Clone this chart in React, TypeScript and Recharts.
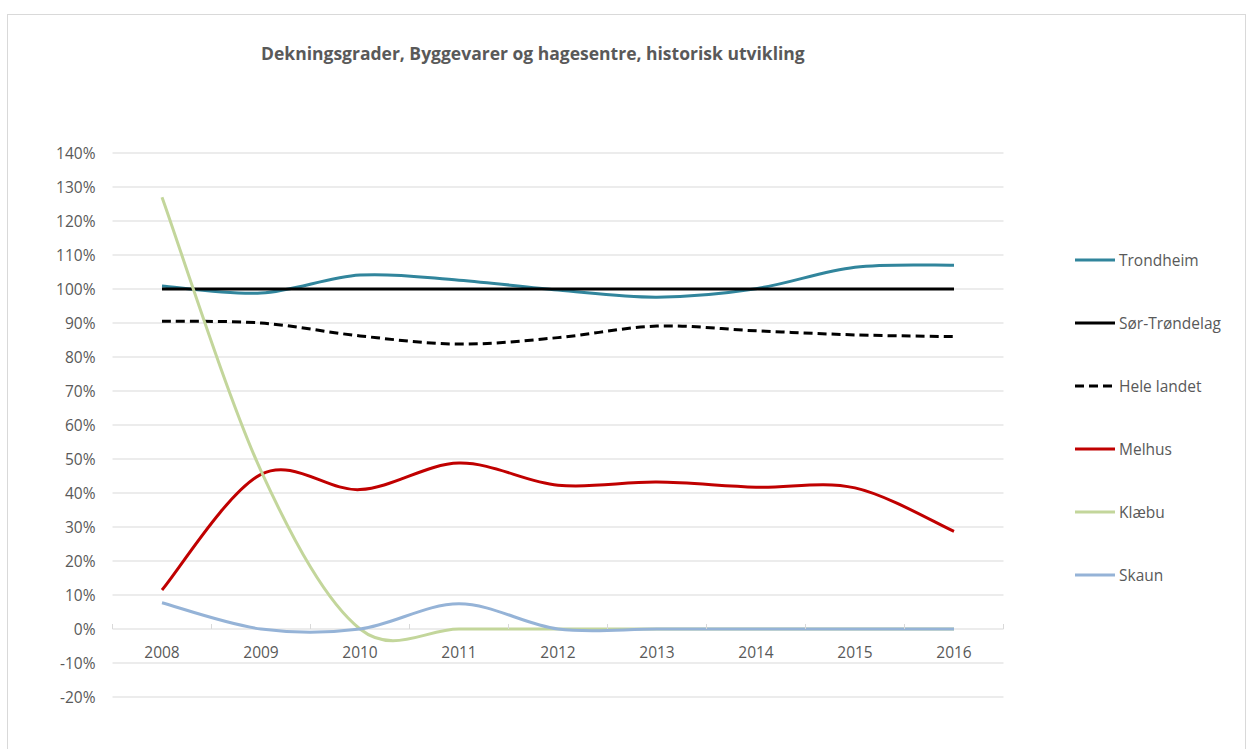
import React from "react";
import { LineChart, Line, XAxis, YAxis, CartesianGrid } from "recharts";

const years = ["2008", "2009", "2010", "2011", "2012", "2013", "2014", "2015", "2016"];
const trondheim = [1.009, 0.988, 1.041, 1.026, 0.997, 0.976, 1.001, 1.064, 1.07];
const sorTrondelag = [1.0, 1.0, 1.0, 1.0, 1.0, 1.0, 1.0, 1.0, 1.0];
const heleLandet = [0.905, 0.9, 0.862, 0.838, 0.857, 0.891, 0.877, 0.865, 0.86];
const melhus = [0.115, 0.455, 0.41, 0.488, 0.423, 0.432, 0.417, 0.415, 0.287];
const klaebu = [1.27, 0.465, 0.0, 0.0, 0.0, 0.0, 0.0, 0.0, 0.0];
const skaun = [0.077, 0.0, 0.0, 0.074, 0.0, 0.0, 0.0, 0.0, 0.0];
const yTicks = [-0.2, -0.1, 0, 0.1, 0.2, 0.3, 0.4, 0.5, 0.6, 0.7, 0.8, 0.9, 1.0, 1.1, 1.2, 1.3, 1.4];

const title = "Dekningsgrader, Byggevarer og hagesentre, historisk utvikling";

const series = [
  { key: "trondheim", name: "Trondheim", color: "#31859C", dash: undefined as string | undefined },
  { key: "sor", name: "Sør-Trøndelag", color: "#000000", dash: undefined },
  { key: "hele", name: "Hele landet", color: "#000000", dash: "9 5" },
  { key: "melhus", name: "Melhus", color: "#C00000", dash: undefined },
  { key: "klaebu", name: "Klæbu", color: "#C3D69B", dash: undefined },
  { key: "skaun", name: "Skaun", color: "#95B3D7", dash: undefined },
];

const data = years.map((y, i) => ({
  year: y,
  trondheim: trondheim[i],
  sor: sorTrondelag[i],
  hele: heleLandet[i],
  melhus: melhus[i],
  klaebu: klaebu[i],
  skaun: skaun[i],
}));

// Catmull-Rom style smoothing (like Excel's smoothed lines)
function smoothCurve(context: any) {
  let pts: number[][] = [];
  return {
    areaStart() {},
    areaEnd() {},
    lineStart() {
      pts = [];
    },
    point(x: number, y: number) {
      pts.push([+x, +y]);
    },
    lineEnd() {
      const n = pts.length;
      if (n === 0) return;
      context.moveTo(pts[0][0], pts[0][1]);
      if (n === 1) return;
      for (let i = 0; i < n - 1; i++) {
        const p0 = pts[i - 1] || pts[i];
        const p1 = pts[i];
        const p2 = pts[i + 1];
        const p3 = pts[i + 2] || pts[i + 1];
        const c1x = p1[0] + (p2[0] - p0[0]) / 6;
        const c1y = p1[1] + (p2[1] - p0[1]) / 6;
        const c2x = p2[0] - (p3[0] - p1[0]) / 6;
        const c2y = p2[1] - (p3[1] - p1[1]) / 6;
        context.bezierCurveTo(c1x, c1y, c2x, c2y, p2[0], p2[1]);
      }
    },
  };
}

const W = 1247;
const H = 749;
const M_TOP = 153;
const M_RIGHT = 243.5;
const Y_AXIS_W = 112.5;
const X_AXIS_H = 30;
const M_BOTTOM = 22;
const Y_MIN = -0.2;
const Y_MAX = 1.4;
const PLOT_H = H - M_TOP - M_BOTTOM - X_AXIS_H;
const PAD = 49.5;
const ZERO_Y = M_TOP + ((Y_MAX - 0) / (Y_MAX - Y_MIN)) * PLOT_H;

const FONT = "'Open Sans', 'Noto Sans', sans-serif";
const TXT = "#595959";

const XTick = (props: any) => {
  const { x, payload, index } = props;
  const last = index === years.length - 1;
  return (
    <g>
      <line x1={x - PAD} x2={x - PAD} y1={ZERO_Y - 5} y2={ZERO_Y} stroke="#d9d9d9" strokeWidth={1} />
      {last && <line x1={x + PAD} x2={x + PAD} y1={ZERO_Y - 5} y2={ZERO_Y} stroke="#d9d9d9" strokeWidth={1} />}
      <text x={x} y={ZERO_Y + 29} textAnchor="middle" fill={TXT} fontSize={15.5} fontFamily={FONT}>
        {payload.value}
      </text>
    </g>
  );
};

export default function App() {
  return (
    <div style={{ position: "absolute", left: 0, top: 0, width: W, height: H, background: "#fff", overflow: "hidden" }}>
      <div
        style={{
          position: "absolute",
          left: 7,
          top: 14,
          width: 1239,
          height: 760,
          border: "1px solid #d9d9d9",
          boxSizing: "border-box",
        }}
      />
      <div
        style={{
          position: "absolute",
          left: 261,
          top: 40,
          fontFamily: FONT,
          fontWeight: 700,
          fontSize: 17.5,
          color: TXT,
          whiteSpace: "nowrap",
          lineHeight: "26px",
        }}
      >
        {title}
      </div>
      <div style={{ position: "absolute", left: 0, top: 0 }}>
        <LineChart width={W} height={H} data={data} margin={{ top: M_TOP, right: M_RIGHT, bottom: M_BOTTOM, left: 0 }}>
          <CartesianGrid vertical={false} stroke="#d9d9d9" strokeWidth={1} />
          <XAxis
            dataKey="year"
            height={X_AXIS_H}
            axisLine={false}
            tickLine={false}
            padding={{ left: PAD, right: PAD }}
            tick={<XTick />}
            interval={0}
          />
          <YAxis
            width={Y_AXIS_W}
            domain={[Y_MIN, Y_MAX]}
            ticks={yTicks}
            axisLine={false}
            tickLine={false}
            tickSize={0}
            tickMargin={17}
            allowDataOverflow
            tickFormatter={(v: number) => `${Math.round(v * 100)}%`}
            tick={{ fill: TXT, fontSize: 15.5, fontFamily: FONT }}
          />
          {series.map((s) => (
            <Line
              key={s.key}
              dataKey={s.key}
              name={s.name}
              type={smoothCurve as any}
              stroke={s.color}
              strokeWidth={3}
              strokeDasharray={s.dash}
              dot={false}
              activeDot={false}
              isAnimationActive={false}
            />
          ))}
        </LineChart>
      </div>
      <div style={{ position: "absolute", left: 1074, top: 248 }}>
        {series.map((s, i) => (
          <div
            key={s.key}
            style={{ position: "absolute", left: 0, top: i * 63, height: 24, display: "flex", alignItems: "center", whiteSpace: "nowrap" }}
          >
            <svg width={42} height={6} style={{ display: "block" }}>
              <line x1={1} x2={41} y1={3} y2={3} stroke={s.color} strokeWidth={3} strokeDasharray={s.dash} />
            </svg>
            <span style={{ marginLeft: 3, fontFamily: FONT, fontSize: 15.5, color: TXT }}>{s.name}</span>
          </div>
        ))}
      </div>
    </div>
  );
}
